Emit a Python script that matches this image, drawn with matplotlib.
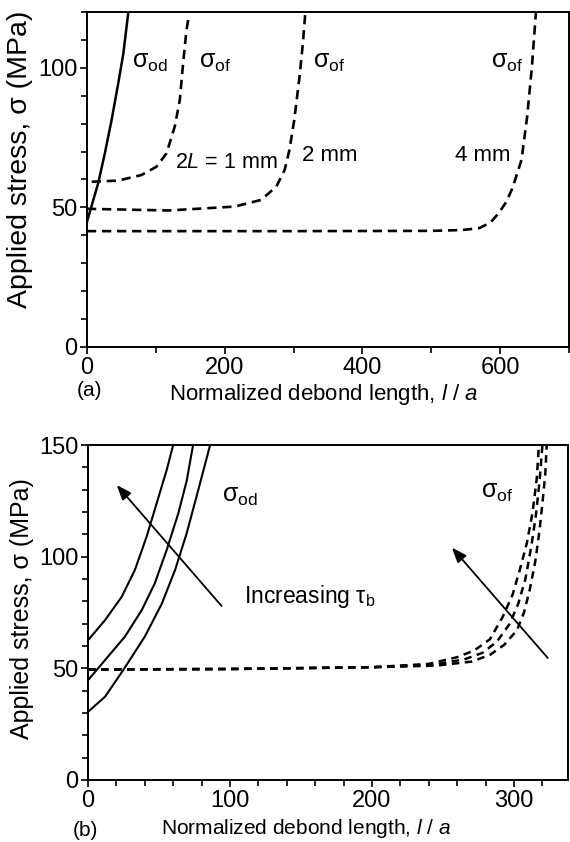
import numpy as np
import matplotlib
matplotlib.use("Agg")
import matplotlib.pyplot as plt
from matplotlib.ticker import MultipleLocator

plt.rcParams["font.family"] = ["Liberation Sans", "DejaVu Sans"]
plt.rcParams["mathtext.fontset"] = "custom"
plt.rcParams["mathtext.rm"] = "Liberation Sans"
plt.rcParams["mathtext.it"] = "Liberation Sans:italic"

# ---- panel (a) data: sigma (MPa) vs l/a ----
OD_A_X = [0, 16.4, 26, 35.8, 45.4, 52.7, 59.9]
OD_A_Y = [44.9, 58.8, 69.5, 81.4, 94.5, 105, 119.6]

OF1_X = [6.8, 45, 79, 101, 115.5, 127.5, 134.8, 139.6, 144.5, 147.8]
OF1_Y = [59.2, 59.6, 61.6, 64.6, 69.4, 79, 88.5, 101.7, 113.6, 118.4]

OF2_X = [0, 118, 214.5, 253, 275, 287, 294, 301, 308.7, 313.5, 317]
OF2_Y = [49.5, 48.9, 50.3, 52.7, 57.5, 63.4, 70.6, 81.4, 96.9, 108.8, 119.6]

OF4_X = [0, 300, 500, 545, 570, 586, 598, 609, 618, 631, 639, 646, 652]
OF4_Y = [41.5, 41.5, 41.6, 41.9, 42.6, 44.6, 48, 52, 57, 67, 82, 100, 120]

# ---- panel (b) data ----
OD_B = [
    ([0.2, 12, 23.7, 33, 41.3, 48.4, 55.4, 60],
     [62.7, 71.6, 82, 94, 109, 124, 138.8, 150]),
    ([0.2, 12, 26, 37.8, 47, 55.4, 63.6, 69.5, 74],
     [44.8, 53.7, 64.2, 76, 88, 103, 119.4, 134, 150]),
    ([0.2, 12, 24.9, 40, 52, 61.3, 69.5, 77.7, 86],
     [30.6, 37.3, 49.3, 64.2, 79, 94, 110.5, 130, 150]),
]
OF_B = [
    ([0, 100, 200, 240, 260, 272, 283, 292, 299, 304, 309, 313, 316, 317.5],
     [49.5, 49.7, 50.5, 52, 55, 58, 63, 73, 83, 94, 106, 119.6, 135, 150]),
    ([0, 100, 200, 242, 265, 278, 288, 297, 303, 308, 312, 315.5, 318, 320],
     [49.5, 49.7, 50.5, 51.5, 54, 57, 62, 70, 79, 90, 104, 119, 134, 150]),
    ([0, 100, 200, 245, 270, 283, 293, 302, 307, 311, 315, 318, 320, 322, 323],
     [49.5, 49.7, 50.5, 51.2, 53, 56, 60.5, 67, 75, 85, 98, 112, 124, 137, 150]),
]

W, H = 570, 842
fig = plt.figure(figsize=(W / 100, H / 100), dpi=100)


def box(l, t, r, b):
    return [l / W, 1 - b / H, (r - l) / W, (b - t) / H]


def style(ax):
    for s in ax.spines.values():
        s.set_linewidth(1.4)
    ax.tick_params(which="both", direction="out", width=1.2, labelsize=17, pad=2)
    ax.tick_params(which="major", length=5)
    ax.tick_params(which="minor", length=4)


SIG_OD = r"$\mathrm{\sigma}_\mathrm{od}$"
SIG_OF = r"$\mathrm{\sigma}_\mathrm{of}$"
XLABEL = r"Normalized debond length, $l$ / $a$"

# ---------------- (a) ----------------
ax = fig.add_axes(box(87, 12, 569, 347))
ax.plot(OD_A_X, OD_A_Y, "k-", lw=1.8)
for xs, ys in [(OF1_X, OF1_Y), (OF2_X, OF2_Y), (OF4_X, OF4_Y)]:
    ax.plot(xs, ys, color="k", lw=1.9, linestyle=(0, (3.5, 2.2)))
ax.set_xlim(0, 700)
ax.set_ylim(0, 120)
ax.xaxis.set_major_locator(MultipleLocator(200))
ax.xaxis.set_minor_locator(MultipleLocator(100))
ax.yaxis.set_major_locator(MultipleLocator(50))
ax.yaxis.set_minor_locator(MultipleLocator(10))
style(ax)
ax.text(91, 102, SIG_OD, fontsize=18, ha="center", va="center")
for x in [186, 352, 610]:
    ax.text(x, 102, SIG_OF, fontsize=18, ha="center", va="center")
ax.text(128, 66, r"2$L$ = 1 mm", fontsize=15.5, ha="left", va="center")
ax.text(312, 68.5, "2 mm", fontsize=16, ha="left", va="center")
ax.text(535, 68.5, "4 mm", fontsize=16, ha="left", va="center")
ax.set_ylabel("Applied stress, σ (MPa)", fontsize=20.5)
ax.yaxis.set_label_coords(-0.112, 0.56)
ax.set_xlabel(XLABEL, fontsize=16)
ax.xaxis.set_label_coords(0.49, -0.104)
fig.text(90 / W, 1 - 390 / H, "(a)", fontsize=15, ha="center", va="center")

# ---------------- (b) ----------------
bx = fig.add_axes(box(88, 445, 568, 780))
for xs, ys in OD_B:
    bx.plot(xs, ys, "k-", lw=1.5)
for xs, ys in OF_B:
    bx.plot(xs, ys, color="k", lw=1.8, linestyle=(0, (3, 2.2)))
bx.set_xlim(0, 338)
bx.set_ylim(0, 150)
bx.xaxis.set_major_locator(MultipleLocator(100))
bx.xaxis.set_minor_locator(MultipleLocator(20))
bx.yaxis.set_major_locator(MultipleLocator(50))
bx.yaxis.set_minor_locator(MultipleLocator(10))
style(bx)
arrow = dict(arrowstyle="-|>,head_length=0.9,head_width=0.35", color="k", lw=1.3)
bx.annotate("", xy=(19, 133), xytext=(95.3, 77), arrowprops=arrow)
bx.annotate("", xy=(255, 105), xytext=(325, 53.7), arrowprops=arrow)
bx.text(107, 127, SIG_OD, fontsize=18, ha="center", va="center")
bx.text(288, 129, SIG_OF, fontsize=18, ha="center", va="center")
bx.text(110, 82, r"Increasing $\mathrm{\tau}_\mathrm{b}$", fontsize=16.5,
        ha="left", va="center")
bx.set_ylabel("Applied stress, σ (MPa)", fontsize=18)
bx.yaxis.set_label_coords(-0.112, 0.513)
bx.set_xlabel(XLABEL, fontsize=15)
bx.xaxis.set_label_coords(0.454, -0.11)
fig.text(85 / W, 1 - 830 / H, "(b)", fontsize=15, ha="center", va="center")

fig.savefig("out.png", dpi=100)
